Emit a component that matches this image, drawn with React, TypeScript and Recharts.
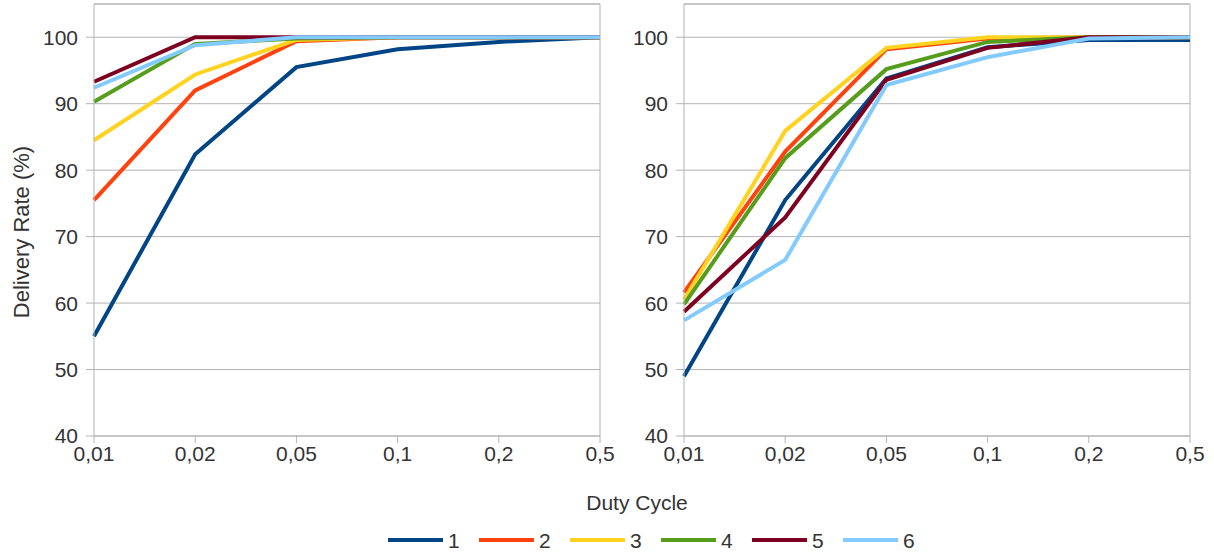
import { LineChart, Line, XAxis, YAxis, CartesianGrid, ReferenceLine } from 'recharts'

const dutyCycles = ['0,01', '0,02', '0,05', '0,1', '0,2', '0,5']
const seriesNames = ['1', '2', '3', '4', '5', '6']
const colors = ['#004586', '#ff420e', '#ffd320', '#579d1c', '#7e0021', '#83caff']
const yTicks = [40, 50, 60, 70, 80, 90, 100]

// left panel
const left1 = [55, 82.4, 95.5, 98.2, 99.3, 100]
const left2 = [75.5, 92, 99.4, 100, 100, 100]
const left3 = [84.5, 94.4, 99.6, 100, 100, 100]
const left4 = [90.3, 99, 99.8, 100, 100, 100]
const left5 = [93.3, 100, 100, 100, 100, 100]
const left6 = [92.4, 98.8, 100, 100, 100, 100]

// right panel
const right1 = [49, 75.5, 93.8, 98.5, 99.6, 99.6]
const right2 = [61.6, 82.8, 98.2, 99.8, 100, 100]
const right3 = [60.5, 85.9, 98.4, 100, 100, 100]
const right4 = [59.8, 81.8, 95.2, 99.3, 100, 100]
const right5 = [58.7, 72.9, 93.6, 98.4, 100, 100]
const right6 = [57.4, 66.5, 92.8, 97, 99.8, 100]

const leftSeries = [left1, left2, left3, left4, left5, left6]
const rightSeries = [right1, right2, right3, right4, right5, right6]

const toRows = (series: number[][]) =>
  dutyCycles.map((d, i) => {
    const row: Record<string, string | number> = { d }
    series.forEach((s, k) => {
      row[seriesNames[k]] = s[i]
    })
    return row
  })

const font = '"Liberation Sans", Arial, sans-serif'
const grid = '#b3b3b3'
const tickStyle = { fill: '#333', fontSize: 21, fontFamily: font }

function Panel({ series, width, marginRight }: { series: number[][]; width: number; marginRight: number }) {
  return (
    <LineChart
      width={width}
      height={470}
      data={toRows(series)}
      margin={{ top: 4, right: marginRight, left: 0, bottom: 0 }}
    >
      <CartesianGrid vertical={false} stroke={grid} />
      <XAxis
        dataKey="d"
        height={34}
        stroke={grid}
        tick={tickStyle}
        tickSize={7}
        tickMargin={3}
        interval={0}
      />
      <YAxis
        width={94}
        domain={[40, 105]}
        ticks={yTicks}
        stroke={grid}
        tick={tickStyle}
        tickSize={8}
        tickMargin={8}
        interval={0}
      />
      <ReferenceLine y={105} stroke={grid} />
      <ReferenceLine x="0,5" stroke={grid} />
      {seriesNames.map((name, k) => (
        <Line
          key={name}
          dataKey={name}
          stroke={colors[k]}
          strokeWidth={4}
          dot={false}
          isAnimationActive={false}
        />
      ))}
    </LineChart>
  )
}

export default function App() {
  return (
    <div style={{ position: 'absolute', left: 0, top: 0, width: 1214, height: 552, background: '#fff', fontFamily: font, color: '#333' }}>
      <div style={{ position: 'absolute', left: 0, top: 0 }}>
        <Panel series={leftSeries} width={640} marginRight={40} />
      </div>
      <div style={{ position: 'absolute', left: 590, top: 0 }}>
        <Panel series={rightSeries} width={624} marginRight={24} />
      </div>
      <div
        style={{
          position: 'absolute',
          left: 22,
          top: 232,
          transform: 'translate(-50%, -50%) rotate(-90deg)',
          whiteSpace: 'nowrap',
          fontSize: 22,
          lineHeight: 1,
        }}
      >
        Delivery Rate (%)
      </div>
      <div
        style={{
          position: 'absolute',
          left: 637,
          top: 502,
          transform: 'translate(-50%, -50%)',
          whiteSpace: 'nowrap',
          fontSize: 21,
          lineHeight: 1,
        }}
      >
        Duty Cycle
      </div>
      <div style={{ position: 'absolute', left: 388, top: 528, display: 'flex' }}>
        {seriesNames.map((name, k) => (
          <div key={name} style={{ width: 91, display: 'flex', alignItems: 'center', height: 24 }}>
            <div style={{ width: 55, height: 4, background: colors[k] }} />
            <span style={{ marginLeft: 5, fontSize: 21, lineHeight: 1 }}>{name}</span>
          </div>
        ))}
      </div>
    </div>
  )
}
